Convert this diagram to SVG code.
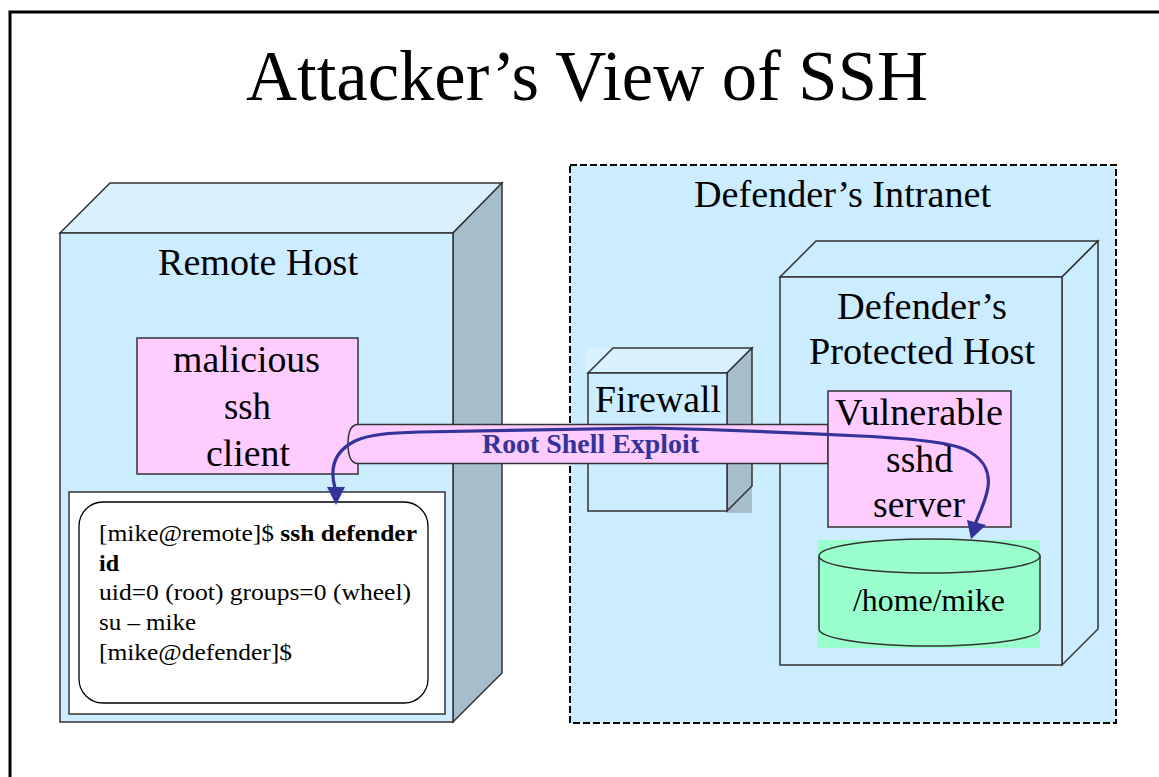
<svg xmlns="http://www.w3.org/2000/svg" width="1159" height="777" viewBox="0 0 1159 777">
<style>
.t{font-family:"Liberation Serif","Times New Roman",serif;fill:#000}
.lbl{font-size:37px}
.term{font-size:24px}
.ol{stroke:#333;stroke-width:1.5}
.front{fill:#CCECFF}
.top{fill:#D9F1FF}
.side{fill:#A6BDCC}
.pink{fill:#FFCCFF}
</style>
<rect width="1159" height="777" fill="#fff"/>
<g id="frame" fill="none" stroke="#000" stroke-width="3">
<path d="M10,777 V12 H1159"/>
</g>
<text id="title" class="t" x="246" y="100" font-size="71" textLength="682" lengthAdjust="spacingAndGlyphs">Attacker’s View of SSH</text>

<g id="remote-host">
<polygon class="top ol" points="60,233 110,183 502,183 453,233"/>
<polygon class="side ol" points="453,233 502,183 502,673 453,722"/>
<rect class="front ol" x="60" y="233" width="393" height="489"/>
<text class="t lbl" x="158" y="275" textLength="200" lengthAdjust="spacingAndGlyphs">Remote Host</text>
</g>

<g id="malicious-client">
<rect class="pink ol" x="137" y="338" width="221" height="136"/>
<text class="t lbl" x="173" y="372" textLength="147" lengthAdjust="spacingAndGlyphs">malicious</text>
<text class="t lbl" x="224" y="419" textLength="47" lengthAdjust="spacingAndGlyphs">ssh</text>
<text class="t lbl" x="206" y="466" textLength="84" lengthAdjust="spacingAndGlyphs">client</text>
</g>

<g id="terminal">
<rect x="69" y="492" width="376" height="222" fill="#fff" class="ol"/>
<rect x="79" y="502" width="349" height="201" rx="24" ry="24" fill="#fff" stroke="#000" stroke-width="1.3"/>
<text class="t term" x="99" y="541" textLength="318" lengthAdjust="spacingAndGlyphs">[mike@remote]$ <tspan font-weight="bold">ssh defender</tspan></text>
<text class="t term" x="99" y="571" font-weight="bold">id</text>
<text class="t term" x="99" y="600" textLength="312" lengthAdjust="spacingAndGlyphs">uid=0 (root) groups=0 (wheel)</text>
<text class="t term" x="99" y="630" textLength="97" lengthAdjust="spacingAndGlyphs">su – mike</text>
<text class="t term" x="99" y="660" textLength="193" lengthAdjust="spacingAndGlyphs">[mike@defender]$</text>
</g>

<g id="intranet">
<rect x="570" y="165" width="546" height="558" fill="#CCECFF" stroke="#000" stroke-width="2" stroke-dasharray="7 3"/>
<text class="t lbl" x="694" y="207" textLength="297" lengthAdjust="spacingAndGlyphs">Defender’s Intranet</text>
</g>

<g id="firewall">
<rect x="586" y="348" width="27" height="25" class="top"/>
<rect x="727" y="348" width="25" height="165" class="side"/>
<polygon class="top ol" points="588,373 613,348 752,348 727,373"/>
<polygon class="side ol" points="727,373 752,348 752,486 727,511"/>
<rect class="front ol" x="588" y="373" width="139" height="138"/>
<text class="t lbl" x="595" y="412" textLength="126" lengthAdjust="spacingAndGlyphs">Firewall</text>
</g>

<g id="protected-host">
<polygon class="front ol" points="780,277 816,241 1098,241 1062,277"/>
<polygon class="front ol" points="1062,277 1098,241 1098,629 1062,665"/>
<rect class="front ol" x="780" y="277" width="282" height="388"/>
<text class="t lbl" x="837" y="319" textLength="170" lengthAdjust="spacingAndGlyphs">Defender’s</text>
<text class="t lbl" x="809" y="364" textLength="226" lengthAdjust="spacingAndGlyphs">Protected Host</text>
</g>

<g id="home-mike">
<rect x="817" y="540" width="223" height="108" fill="#99FFCC"/>
<path d="M819,556 V629 A110.5,17 0 0 0 1040,629 V556" fill="#99FFCC" class="ol"/>
<ellipse cx="929.5" cy="556" rx="110.5" ry="17" fill="#99FFCC" class="ol"/>
<text class="t" x="853" y="611" font-size="31" textLength="152" lengthAdjust="spacingAndGlyphs">/home/mike</text>
</g>

<g id="connectors">
<g id="tunnel">
<path d="M828,424.5 H358 C351,424.5 348,432 348,444 C348,456 351,463.5 358,463.5 H828 Z" class="pink ol"/>
<text x="482" y="453" font-family="Liberation Serif,Times New Roman,serif" font-weight="bold" font-size="27" fill="#333399" textLength="217" lengthAdjust="spacingAndGlyphs">Root Shell Exploit</text>
</g>
</g>

<g id="vulnerable-sshd">
<rect class="pink ol" x="828" y="391" width="183" height="136"/>
<text class="t lbl" x="835" y="425" textLength="168" lengthAdjust="spacingAndGlyphs">Vulnerable</text>
<text class="t lbl" x="886" y="472" textLength="67" lengthAdjust="spacingAndGlyphs">sshd</text>
<text class="t lbl" x="873" y="517" textLength="92" lengthAdjust="spacingAndGlyphs">server</text>
</g>

<g id="exploit-arrow" fill="#333399">
<path d="M335,488 C330,470 333,452 355,441 C370,434 390,433 420,432 L650,428 C730,430 800,433 860,436 C920,439 955,443 970,452 C985,461 990,472 988,487 C986,500 981,510 976,522" fill="none" stroke="#333399" stroke-width="3.2" stroke-linecap="round"/>
<polygon points="327,487 345,487 336,505"/>
<polygon points="967,520 986,525 971,539"/>
</g>
</svg>
